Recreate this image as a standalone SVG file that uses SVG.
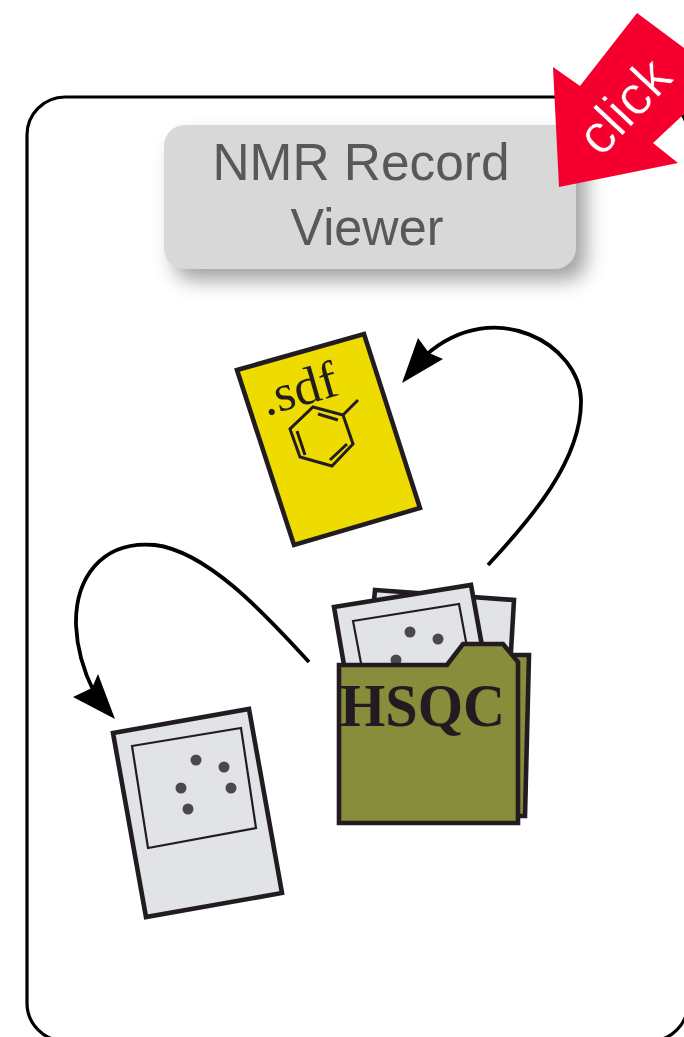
<svg xmlns="http://www.w3.org/2000/svg" width="684" height="1037" viewBox="0 0 684 1037">
<defs>
<filter id="shadow" x="-15%" y="-25%" width="130%" height="160%"><feGaussianBlur stdDeviation="10"/></filter>
<filter id="soft" filterUnits="userSpaceOnUse" x="0" y="0" width="684" height="1037"><feGaussianBlur stdDeviation="0.55"/></filter>
</defs>
<style>
.ink{stroke:#231f20;stroke-width:4.6;stroke-linejoin:miter}
.page{fill:#e1e3e6}
.thin{fill:none;stroke:#231f20;stroke-width:2.2}
.dot{fill:#4a4a4a}
.ring{fill:none;stroke:#231f20;stroke-width:3}
.conn{fill:none;stroke:#000;stroke-width:3.8}
text{font-family:"Liberation Sans",Arial,sans-serif}
.serif{font-family:"Liberation Serif","Times New Roman",serif;fill:#231f20}
</style>
<rect width="684" height="1037" fill="#fff"/>
<g filter="url(#soft)">
<g id="frame"><rect x="27" y="97" width="661" height="944" rx="38" fill="#fff" stroke="#000" stroke-width="3.2"/></g>
<g id="title">
<rect x="174" y="138" width="412" height="142" rx="20" fill="#808080" opacity=".75" filter="url(#shadow)"/>
<rect x="164" y="125" width="412" height="144" rx="21" fill="#d8d8d8"/>
<text x="361" y="180" font-size="52" text-anchor="middle" fill="#58595b" textLength="297" lengthAdjust="spacingAndGlyphs">NMR Record</text>
<text x="367" y="245" font-size="52" text-anchor="middle" fill="#58595b" textLength="153" lengthAdjust="spacingAndGlyphs">Viewer</text>
</g>
<g id="click">
<path d="M637 13L684 48V114L653 143L678 163L559 187L553 67L580 86Z" fill="#f5002d"/>
<text transform="translate(638 119) rotate(-47)" font-size="56" text-anchor="middle" fill="#fff" stroke="#f5002d" stroke-width="0.7" textLength="108" lengthAdjust="spacingAndGlyphs">click</text>
</g>
<g id="connectors">
<path class="conn" d="M488 565C530 520 582 460 581 400C580 345 495 295 426 355"/>
<path class="conn" d="M309 662C270 620 210 552 155 545C100 540 75 580 76 625C77 650 84 672 94 692"/>
<path d="M402 383L418 338L429 353L443 359Z" fill="#000"/>
<path d="M115 719L98 674L92 688L73 697Z" fill="#000"/>
</g>
<g id="sdf">
<path class="ink" d="M237 370L364 334L420 508L294 545Z" fill="#eedc00"/>
<text class="serif" transform="translate(266 416) rotate(-16)" font-size="52" textLength="78" lengthAdjust="spacingAndGlyphs">.sdf</text>
<path class="ring" d="M313 407L343 415L353 444L332 466L300 457L290 429Z"/>
<path class="ring" d="M318 414L338 420M297 431L305 455M347 444L330 460M343 415L358 400"/>
</g>
<g id="hsqc">
<path class="ink page" d="M375 590L514 600L507 720L365 700Z"/>
<path class="ink page" d="M334 607L471 585L490 690L350 700Z"/>
<path class="thin" d="M353 621L459 604L475 690L368 700Z"/>
<circle class="dot" cx="410" cy="632" r="5.5"/><circle class="dot" cx="438" cy="639" r="5.5"/><circle class="dot" cx="396" cy="660" r="5.5"/>
<path class="ink" d="M500 655L529 655L525 816L500 816Z" fill="#888d3b"/>
<path class="ink" d="M339 665L447 665L463 644L503 644L518 662V823H339Z" fill="#888d3b"/>
<text class="serif" x="340" y="726" font-size="62" font-weight="bold" textLength="165" lengthAdjust="spacingAndGlyphs">HSQC</text>
</g>
<g id="spectrum">
<path class="ink page" d="M113 733L249 709L282 893L146 917Z"/>
<path class="thin" d="M132 746L241 728L256 828L148 848Z"/>
<circle class="dot" cx="196" cy="760" r="5.5"/><circle class="dot" cx="224" cy="767" r="5.5"/><circle class="dot" cx="181" cy="788" r="5.5"/><circle class="dot" cx="231" cy="788" r="5.5"/><circle class="dot" cx="188" cy="809" r="5.5"/>
</g>
</g>
</svg>
